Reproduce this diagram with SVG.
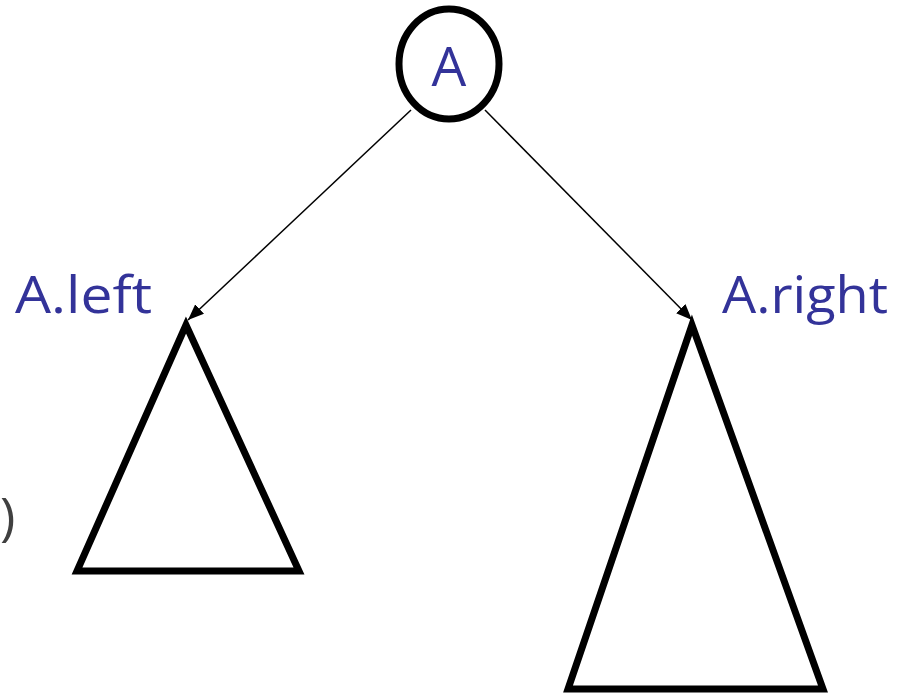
<svg xmlns="http://www.w3.org/2000/svg" width="908" height="695" viewBox="0 0 908 695">
<style>
.lbl{font-family:"Open Sans","Liberation Sans",sans-serif;fill:#333399}
.tri{fill:none;stroke:#000;stroke-width:7;stroke-linejoin:miter}
</style>
<defs>
<marker id="ah2" viewBox="0 0 10 10" refX="10" refY="5" markerWidth="16" markerHeight="13" orient="auto" markerUnits="userSpaceOnUse" preserveAspectRatio="none">
<path d="M0,0 L10,5 L0,10 Z" fill="#000"/>
</marker>
</defs>
<g id="connectors">
<line x1="411" y1="110" x2="188" y2="320" stroke="#000" stroke-width="1.5" marker-end="url(#ah2)"/>
<line x1="485" y1="110" x2="692" y2="320" stroke="#000" stroke-width="1.5" marker-end="url(#ah2)"/>
</g>
<g id="nodeA">
<ellipse cx="449" cy="64" rx="50" ry="55" fill="#fff" stroke="#000" stroke-width="7"/>
<text class="lbl" x="449" y="86" font-size="55" text-anchor="middle">A</text>
</g>
<g id="left">
<text class="lbl" x="15" y="313" font-size="52" textLength="137" lengthAdjust="spacingAndGlyphs">A.left</text>
<polygon class="tri" points="186,325 77,571 299,571"/>
</g>
<g id="right">
<text class="lbl" x="722" y="313" font-size="52" textLength="166" lengthAdjust="spacingAndGlyphs">A.right</text>
<polygon class="tri" points="692,325 568,689 823,689"/>
</g>
<text x="0" y="535" font-family="Open Sans, Liberation Sans, sans-serif" font-size="52" fill="#404040">)</text>
</svg>
